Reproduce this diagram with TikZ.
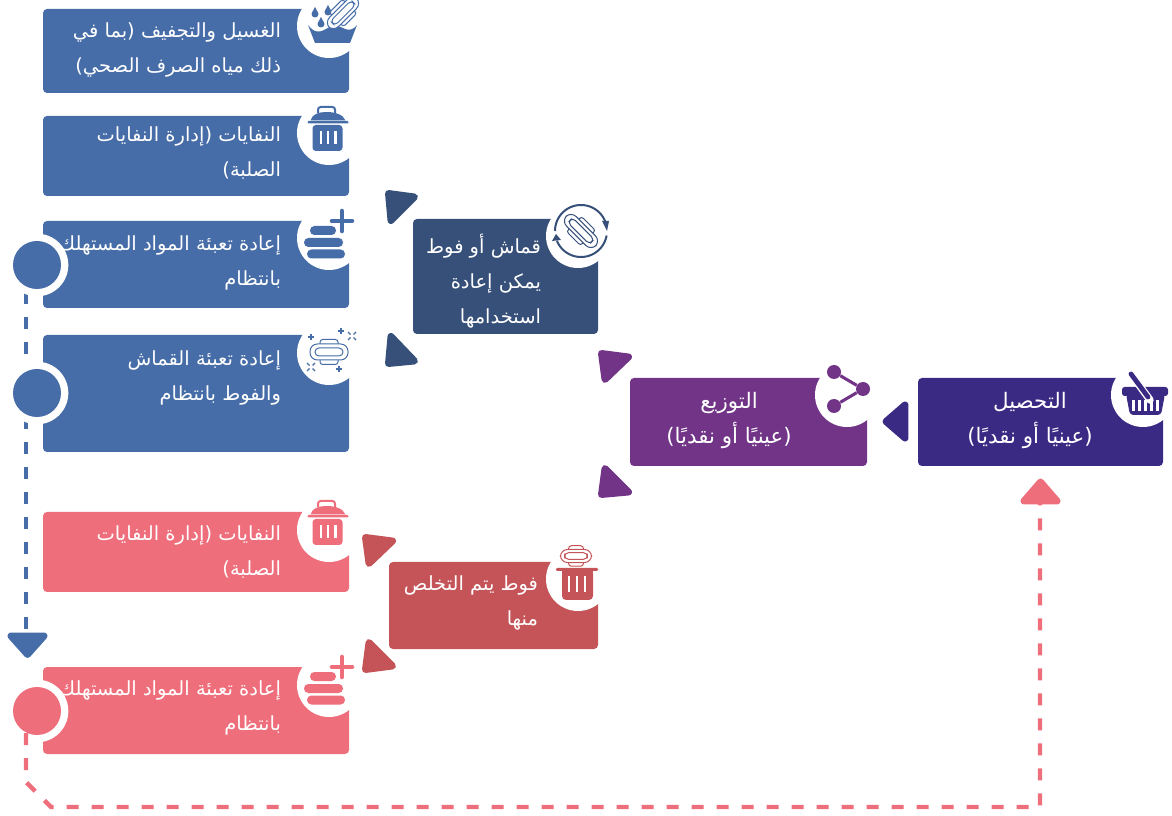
\documentclass[tikz,border=0pt]{standalone}
\usepackage{fontspec}
\setmainfont{DejaVu Sans}
\TeXXeTstate=1
\newfontfamily\arabicfont[Script=Arabic]{DejaVu Sans}
\usetikzlibrary{calc}
\definecolor{cblue}{HTML}{466DA8}
\definecolor{cnavy}{HTML}{375079}
\definecolor{cpurple}{HTML}{713487}
\definecolor{cindigo}{HTML}{3B2A84}
\definecolor{cpink}{HTML}{EF6E7C}
\definecolor{cred}{HTML}{C55459}
\newcommand{\ar}[1]{\rule[-4pt]{0pt}{12pt}\beginR #1\endR}
\newcommand{\panel}[6]{%
  \node (#1) [panelbox, fill=#6, minimum width={(#4-#2)*0.75pt}, minimum height={(#5-#3)*0.75pt}] at ({(#2+#4)/2},{(#3+#5)/2}) {};}
\newcommand{\notch}[3]{\node (#1) [notchc] at (#2,#3) {};}
\newcommand{\tri}[7]{\filldraw[#7, line width=5.2pt, line join=round] (#1,#2) -- (#3,#4) -- (#5,#6) -- cycle;}
\newcommand{\trashicon}[3]{%
  \begin{scope}[shift={(#1,#2)}]
   \draw[#3, line width=1.5pt, rounded corners=2pt] (-10,8) -- (-10,2) -- (7,2) -- (7,8);
   \fill[#3] (-17.5,15.5) .. controls (-16,9) and (-9,7) .. (-1.5,7) .. controls (6,7) and (15,9) .. (17.5,15.5) -- cycle;
   \fill[#3, rounded corners=0.8pt] (-20.5,16) rectangle (20.5,18.5);
   \fill[#3, rounded corners=2.5pt] (-15.5,20) -- (14.5,20) -- (14.5,46) -- (-15.5,46) -- cycle;
   \fill[white] (-8.5,26) rectangle (-6.2,39);
   \fill[white] (-1.2,26) rectangle (1.1,39);
   \fill[white] (6.2,26) rectangle (8.5,39);
  \end{scope}}
\newcommand{\stackicon}[3]{%
  \begin{scope}[shift={(#1,#2)}]
   \fill[#3, rounded corners=3.3pt] (310,226) rectangle (336,235);
   \fill[#3, rounded corners=3.3pt] (304,238) rectangle (343,247);
   \fill[#3, rounded corners=3.3pt] (307,249.5) rectangle (345,258.5);
   \draw[white, line width=8pt, line cap=round] (342,211) -- (342,231) (332,221) -- (352,221);
   \draw[#3, line width=3.4pt, line cap=round] (342,211) -- (342,231) (332,221) -- (352,221);
  \end{scope}}
\newcommand{\padicon}[5]{% x y rot colour scaling
  \begin{scope}[shift={(#1,#2)}, rotate=#3, #5, #4, line width=0.75pt]
   \draw[fill=white, rounded corners=2pt] (-9,-12.5) rectangle (9,12.5);
   \draw[fill=white, rounded corners=5.5pt] (-19,-8) rectangle (19,8);
   \draw[fill=white, rounded corners=3pt] (-14,-4) rectangle (14,4);
  \end{scope}}
\newcommand{\plusicon}[3]{\draw[#3, line width=1.3pt] (#1-3,#2) -- (#1+3,#2) (#1,#2-3) -- (#1,#2+3);}
\newcommand{\xicon}[3]{\draw[#3, line width=1pt] (#1-4,#2-4) -- (#1-1.5,#2-1.5) (#1+4,#2-4) -- (#1+1.5,#2-1.5) (#1-4,#2+4) -- (#1-1.5,#2+1.5) (#1+4,#2+4) -- (#1+1.5,#2+1.5);}
\tikzset{
  panelbox/.style={draw=none, rounded corners=3pt, inner sep=0pt, outer sep=0pt},
  notchc/.style={circle, fill=white, minimum size=48pt, inner sep=0pt, outer sep=0pt},
  ringc/.style={circle, fill=white, minimum size=47pt, inner sep=0pt},
  dotc/.style={circle, minimum size=36pt, inner sep=0pt, outer sep=0pt},
  lab/.style={text=white, inner sep=0pt, outer sep=0pt,
     font=\arabicfont\fontsize{14.6}{26.3}\selectfont},
  labr/.style={lab, anchor=north east, align=right},
  labc/.style={lab, anchor=north, align=center, font=\arabicfont\fontsize{16}{26.3}\selectfont},
  dashblue/.style={draw=cblue, line width=3.3pt, dash pattern=on 9pt off 9.75pt},
  dashpink/.style={draw=cpink, line width=3.3pt, dash pattern=on 9pt off 9.75pt},
}
\begin{document}
\begin{tikzpicture}[x=0.75pt,y=-0.75pt]
\useasboundingbox (0,0) rectangle (1172,816);
\coordinate (bluefrom) at (26,292);
\coordinate (blueto) at (26,636);
\coordinate (pinkfrom) at (26,733);
\coordinate (pinkbend1) at (26,782);
\coordinate (pinkbend2) at (51,807);
\coordinate (pinkcorner) at (1040,807);
\coordinate (pinkto) at (1040,500);
\draw[dashblue] (bluefrom) -- (blueto);
% panels
\panel{p1}{43}{9}{349}{93}{cblue}
\panel{p2}{43}{116}{349}{196}{cblue}
\panel{p3}{43}{221}{349}{308}{cblue}
\panel{p4}{43}{335}{349}{452}{cblue}
\panel{p5}{43}{512}{349}{592}{cpink}
\panel{p6}{43}{667}{349}{754}{cpink}
\panel{p7}{413}{219}{598}{334}{cnavy}
\panel{p8}{389}{562}{598}{649}{cred}
\panel{p9}{630}{378}{867}{466}{cpurple}
\panel{p10}{918}{378}{1163}{466}{cindigo}
% labels
\node (t1) [labr] at (281,23) {\ar{الغسيل والتجفيف (بما في}\\\ar{ذلك مياه الصرف الصحي)}};
\node (t2) [labr] at (281,127) {\ar{النفايات (إدارة النفايات}\\\ar{الصلبة)}};
\node (t3) [labr] at (281,236) {\ar{إعادة تعبئة المواد المستهلك}\\\ar{بانتظام}};
\node (t4) [labr] at (281,351) {\ar{إعادة تعبئة القماش}\\\ar{والفوط بانتظام}};
\node (t5) [labr] at (281,526) {\ar{النفايات (إدارة النفايات}\\\ar{الصلبة)}};
\node (t6) [labr] at (281,681) {\ar{إعادة تعبئة المواد المستهلك}\\\ar{بانتظام}};
\node (t7) [labr] at (541,234) {\ar{قماش أو فوط}\\\ar{يمكن إعادة}\\\ar{استخدامها}};
\node (t8) [labr] at (538,576) {\ar{فوط يتم التخلص}\\\ar{منها}};
\node (t9) [labc] at (729,392) {\ar{التوزيع}\\\ar{(عينيًا أو نقديًا)}};
\node (t10) [labc] at (1030,392) {\ar{التحصيل}\\\ar{(عينيًا أو نقديًا)}};
% notches
\notch{n1}{329}{26}
\notch{n2}{329}{133}
\notch{n3}{329}{238}
\notch{n4}{329}{353}
\notch{n5}{329}{530}
\notch{n6}{329}{685}
\notch{n7}{578}{236}
\notch{n8}{578}{579}
\notch{n9}{847}{395}
\notch{n10}{1143}{395}
% side dots
\node (d3r) [ringc] at (37,265) {};
\node (d3) [dotc, fill=cblue] at (37,265) {};
\node (d4r) [ringc] at (37,393) {};
\node (d4) [dotc, fill=cblue] at (37,393) {};
\node (d6r) [ringc] at (37,711) {};
\draw[dashpink] (pinkfrom) -- (pinkbend1) -- (pinkbend2) -- (pinkcorner) -- (pinkto);
\node (d6) [dotc, fill=cpink] at (37,711) {};
% triangles
\tri{388.5}{193.5}{414.5}{197}{391}{220.5}{cnavy}
\tri{391}{336.5}{414.5}{361}{388.5}{363.5}{cnavy}
\tri{601.5}{353.5}{628.5}{357}{605}{379.5}{cpurple}
\tri{605}{468.5}{628.5}{492}{601.5}{494.5}{cpurple}
\tri{886}{421.5}{905}{405}{905}{438}{cindigo}
\tri{365.5}{537.5}{392.5}{541}{369}{563.5}{cred}
\tri{369}{642.5}{392.5}{666}{365.5}{669.5}{cred}
\tri{11}{636}{44}{636}{27.5}{654.5}{cblue}
\tri{1040.5}{482}{1057}{501}{1024}{501}{cpink}
% icon: basin
\fill[cblue] (308,25) .. controls (314,33) and (320,33) .. (326,29) .. controls (332,25) and (338,25) .. (345,29) .. controls (350,31) and (354,29) .. (357,25) -- (350,43) -- (315,43) -- cycle;
\foreach \dx/\dy in {315/13,328/11,321/23}{
  \fill[cblue] (\dx,\dy-6) .. controls (\dx+2,\dy-2) and (\dx+3.5,\dy) .. (\dx+3.5,\dy+1) arc[start angle=0,end angle=180,radius=3.5] .. controls (\dx-3.5,\dy) and (\dx-2,\dy-2) .. (\dx,\dy-6) -- cycle;}
\padicon{343}{13}{45}{cblue}{xscale=1.05,yscale=0.8}
\trashicon{328}{105}{cblue}
\trashicon{328}{499}{cpink}
\stackicon{0}{0}{cblue}
\stackicon{0}{446}{cpink}
\padicon{329}{352}{0}{cblue}{scale=1}
\plusicon{341}{331}{cblue}
\plusicon{311}{337}{cblue}
\plusicon{339}{369}{cblue}
\xicon{352}{336}{cblue}
\xicon{311}{367}{cblue}
% icon: reuse
\draw[cnavy, line width=1.5pt] plot[smooth, samples=40, domain=180:338] ({581+26*cos(\x)},{231+26*sin(\x)});
\draw[cnavy, line width=1.5pt] plot[smooth, samples=40, domain=10:158] ({581+26*cos(\x)},{231+26*sin(\x)});
\fill[cnavy] (602,221) -- (609,221) -- (607,231) -- cycle;
\fill[cnavy] (552,241) -- (561,240) -- (556,234) -- cycle;
\padicon{581}{231}{-45}{cnavy}{xscale=1.1,yscale=0.85}
% icon: pad over bin
\padicon{576}{556}{0}{cred}{scale=0.82}
\fill[cred, rounded corners=0.8pt] (556,568) rectangle (598,571);
\fill[cred, rounded corners=3pt] (562,570) -- (593,570) -- (593,600) -- (562,600) -- cycle;
\fill[cred] (562,570) rectangle (593,580);
\foreach \sx in {569,577,585}{\fill[white] (\sx-1.1,576) rectangle (\sx+1.1,592);}
% icon: share
\node (s1) [circle, fill=cpurple, minimum size=10.5pt, inner sep=0pt] at (834,372) {};
\node (s2) [circle, fill=cpurple, minimum size=10.5pt, inner sep=0pt] at (863,389) {};
\node (s3) [circle, fill=cpurple, minimum size=10.5pt, inner sep=0pt] at (834,406) {};
\draw[cpurple, line width=2.3pt] (s1) -- (s2) -- (s3);
% icon: basket
\fill[cindigo, rounded corners=2pt] (1122,387) rectangle (1168,396);
\fill[cindigo, rounded corners=2.5pt] (1126,394) -- (1165,394) -- (1161,415) -- (1130,415) -- cycle;
\foreach \sx in {1133.5,1139.5,1145.5,1151.5,1157.5}{\fill[white] (\sx-1.2,400) rectangle (\sx+1.2,411);}
\draw[white, line width=5.6pt, line cap=round] (1131,374) -- (1150,400);
\draw[cindigo, line width=3.6pt, line cap=round] (1131,374) -- (1148,397);
\end{tikzpicture}
\end{document}
